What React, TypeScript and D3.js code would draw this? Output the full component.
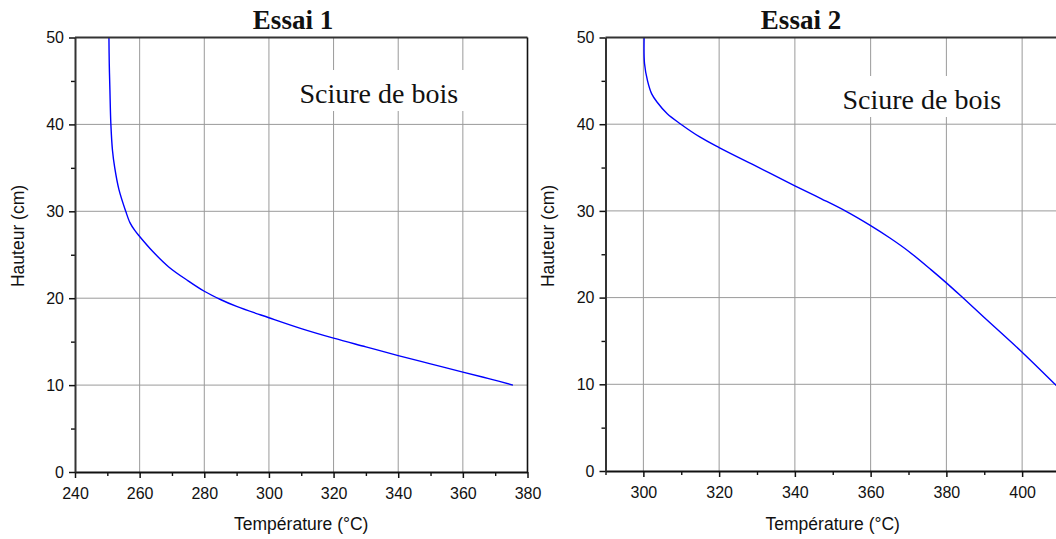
import React, { useEffect, useRef } from "react";
import * as d3 from "d3";

// Essai 1 : température (°C) / hauteur (cm)
const essai1Temperature = [
  250.5, 250.6, 250.8, 251.1, 251.6, 252.3, 253.6, 255.7, 257, 258.5, 260, 264,
  269, 275, 280, 285, 290, 300, 310, 320, 330, 340, 350, 360, 368, 375.5,
];
const essai1Hauteur = [
  50, 47, 44, 40, 37, 35, 32.5, 30, 28.7, 27.8, 27.1, 25.4, 23.6, 22.0, 20.8,
  19.85, 19.05, 17.75, 16.5, 15.4, 14.4, 13.4, 12.45, 11.5, 10.75, 10,
];

// Essai 2
const essai2Temperature = [
  300.2, 300.3, 301.1, 302.2, 303.7, 306.3, 309.9, 315, 320, 330, 340, 347,
  353.3, 360, 365, 370, 376, 380, 384.3, 390, 400, 408.7, 410,
];
const essai2Hauteur = [
  50, 47, 45, 43.5, 42.5, 41.2, 40, 38.5, 37.3, 35.1, 32.9, 31.4, 30, 28.3,
  26.9, 25.35, 23.2, 21.7, 20, 17.7, 13.7, 10, 9.45,
];

const essai1XTicks = [240, 260, 280, 300, 320, 340, 360, 380];
const essai1XMinor = [250, 270, 290, 310, 330, 350, 370];
const essai2XTicks = [300, 320, 340, 360, 380, 400];
const essai2XMinor = [290, 310, 330, 350, 370, 390, 410];
const hauteurTicks = [0, 10, 20, 30, 40, 50];
const hauteurMinor = [5, 15, 25, 35, 45];

const SANS = "'Liberation Sans', Arial, sans-serif";
const SERIF = "'Liberation Serif', 'Times New Roman', serif";

interface PanelProps {
  title: string;
  temps: number[];
  heights: number[];
  xDomain: [number, number];
  xTicks: number[];
  xMinor: number[];
  left: number;
  right: number;
  top: number;
  bottom: number;
  titleX: number;
  noteX: number;
  noteY: number;
  yLabelX: number;
  showRight: boolean;
}

const panels: PanelProps[] = [
  {
    title: "Essai 1",
    temps: essai1Temperature,
    heights: essai1Hauteur,
    xDomain: [240, 380],
    xTicks: essai1XTicks,
    xMinor: essai1XMinor,
    left: 75,
    right: 527.5,
    top: 37.5,
    bottom: 472,
    titleX: 293,
    noteX: 299.5,
    noteY: 103,
    yLabelX: 24,
    showRight: true,
  },
  {
    title: "Essai 2",
    temps: essai2Temperature,
    heights: essai2Hauteur,
    xDomain: [290, 410],
    xTicks: essai2XTicks,
    xMinor: essai2XMinor,
    left: 605.5,
    right: 1060,
    top: 37.5,
    bottom: 471,
    titleX: 801,
    noteX: 842.5,
    noteY: 109,
    yLabelX: 554,
    showRight: false,
  },
];

function drawPanel(svg: d3.Selection<SVGSVGElement, unknown, null, undefined>, p: PanelProps) {
  const g = svg.append("g");
  const x = d3.scaleLinear().domain(p.xDomain).range([p.left, p.right]);
  const y = d3.scaleLinear().domain([0, 50]).range([p.bottom, p.top]);

  // grid
  g.append("g")
    .selectAll("line")
    .data(p.xTicks.filter((d) => d > p.xDomain[0] && d < p.xDomain[1]))
    .enter()
    .append("line")
    .attr("x1", (d) => x(d))
    .attr("x2", (d) => x(d))
    .attr("y1", p.top)
    .attr("y2", p.bottom)
    .attr("stroke", "#9a9a9a")
    .attr("stroke-width", 1);

  g.append("g")
    .selectAll("line")
    .data(hauteurTicks.filter((d) => d > 0 && d < 50))
    .enter()
    .append("line")
    .attr("x1", p.left)
    .attr("x2", p.right)
    .attr("y1", (d) => y(d))
    .attr("y2", (d) => y(d))
    .attr("stroke", "#9a9a9a")
    .attr("stroke-width", 1);

  // note with white background
  const noteBg = g.append("rect").attr("fill", "#fff");
  const note = g
    .append("text")
    .attr("x", p.noteX)
    .attr("y", p.noteY)
    .style("font-family", SERIF)
    .style("font-size", "28px")
    .attr("fill", "#111")
    .text("Sciure de bois");
  const bb = (note.node() as SVGTextElement).getBBox();
  noteBg
    .attr("x", bb.x - 8)
    .attr("y", bb.y - 8)
    .attr("width", bb.width + 16)
    .attr("height", bb.height + 10);

  // curve
  const pts = p.temps.map((t, i) => [t, p.heights[i]] as [number, number]);
  const line = d3
    .line<[number, number]>()
    .x((d) => x(d[0]))
    .y((d) => y(d[1]))
    .curve(d3.curveCatmullRom.alpha(0.5));
  g.append("path")
    .datum(pts)
    .attr("d", line)
    .attr("fill", "none")
    .attr("stroke", "#0000ff")
    .attr("stroke-width", 1.4);

  // frame top / right
  g.append("line")
    .attr("x1", p.left)
    .attr("x2", p.right)
    .attr("y1", p.top)
    .attr("y2", p.top)
    .attr("stroke", "#333")
    .attr("stroke-width", 2);
  if (p.showRight) {
    g.append("line")
      .attr("x1", p.right)
      .attr("x2", p.right)
      .attr("y1", p.top)
      .attr("y2", p.bottom)
      .attr("stroke", "#111")
      .attr("stroke-width", 1.6);
  }

  // minor ticks
  g.append("g")
    .attr("transform", `translate(0,${p.bottom})`)
    .call(d3.axisBottom(x).tickValues(p.xMinor).tickSize(4).tickSizeOuter(0).tickFormat(() => ""))
    .call((s) => s.select(".domain").remove())
    .call((s) => s.selectAll("line").attr("stroke", "#111").attr("stroke-width", 1.4));
  g.append("g")
    .attr("transform", `translate(${p.left},0)`)
    .call(d3.axisLeft(y).tickValues(hauteurMinor).tickSize(4).tickSizeOuter(0).tickFormat(() => ""))
    .call((s) => s.select(".domain").remove())
    .call((s) => s.selectAll("line").attr("stroke", "#111").attr("stroke-width", 1.4));

  // major axes
  g.append("g")
    .attr("transform", `translate(0,${p.bottom})`)
    .call(d3.axisBottom(x).tickValues(p.xTicks).tickSize(6).tickSizeOuter(0).tickPadding(10))
    .call((s) => s.select(".domain").attr("stroke", "#111").attr("stroke-width", 2))
    .call((s) => s.selectAll(".tick line").attr("stroke", "#111").attr("stroke-width", 1.5))
    .call((s) =>
      s
        .selectAll("text")
        .style("font-family", SANS)
        .style("font-size", "16px")
        .attr("fill", "#111")
    );

  g.append("g")
    .attr("transform", `translate(${p.left},0)`)
    .call(d3.axisLeft(y).tickValues(hauteurTicks).tickSize(6).tickSizeOuter(0).tickPadding(5))
    .call((s) => s.select(".domain").attr("stroke", "#333").attr("stroke-width", 2))
    .call((s) => s.selectAll(".tick line").attr("stroke", "#111").attr("stroke-width", 1.5))
    .call((s) =>
      s
        .selectAll("text")
        .style("font-family", SANS)
        .style("font-size", "16px")
        .attr("fill", "#111")
    );

  // labels
  g.append("text")
    .attr("x", p.titleX)
    .attr("y", 29)
    .attr("text-anchor", "middle")
    .style("font-family", SERIF)
    .style("font-size", "27px")
    .style("font-weight", "bold")
    .attr("fill", "#111")
    .text(p.title);

  g.append("text")
    .attr("x", (p.left + p.right) / 2)
    .attr("y", 530)
    .attr("text-anchor", "middle")
    .style("font-family", SANS)
    .style("font-size", "17.5px")
    .attr("fill", "#111")
    .text("Température (°C)");

  g.append("text")
    .attr("transform", `translate(${p.yLabelX},236) rotate(-90)`)
    .attr("text-anchor", "middle")
    .style("font-family", SANS)
    .style("font-size", "17.5px")
    .attr("fill", "#111")
    .text("Hauteur (cm)");
}

export default function App() {
  const svgRef = useRef<SVGSVGElement>(null);

  useEffect(() => {
    if (!svgRef.current) return;
    const svg = d3.select(svgRef.current);
    svg.selectAll("*").remove();
    panels.forEach((p) => drawPanel(svg, p));
  }, []);

  return (
    <svg
      ref={svgRef}
      width={1056}
      height={539}
      style={{ position: "absolute", left: 0, top: 0, background: "#fff" }}
    />
  );
}
